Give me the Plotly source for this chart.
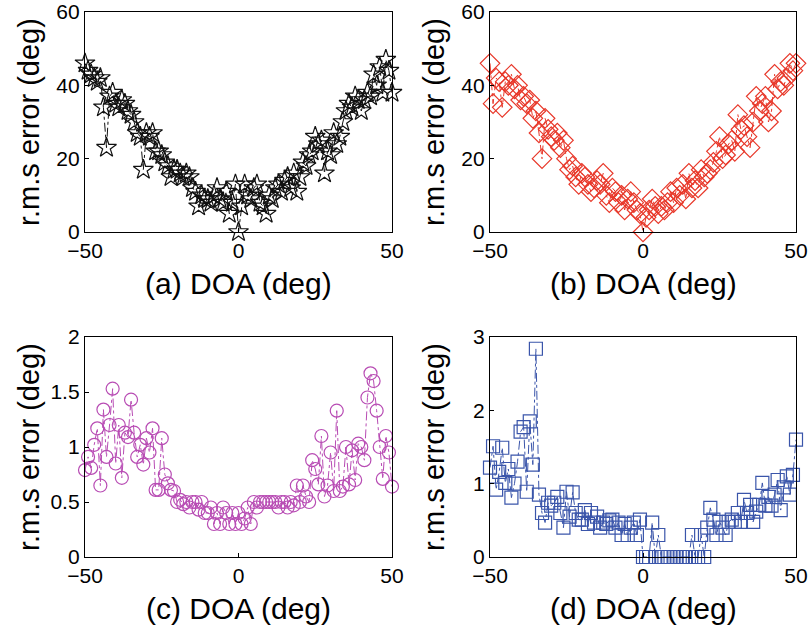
import plotly.graph_objects as go
from plotly.subplots import make_subplots

doa = list(range(-50, 51))

err_a = [46, 44, 43, 42, 41, 42, 34, 23, 37, 38,
         35, 34, 36, 35, 33, 32, 30, 27, 26, 17,
         27, 26, 27, 22, 22, 21, 19, 18, 15, 17,
         17, 16, 15, 16, 15, 12, 11, 7, 10, 9,
         9, 8, 10, 12, 9, 8, 11, 5, 8, 13,
         0,
         7, 13, 10, 9, 12, 13, 8, 7, 5, 10,
         9, 12, 13, 11, 14, 15, 12, 16, 11, 15,
         19, 18, 21, 22, 26, 24, 25, 16, 22, 21,
         27, 24, 26, 30, 33, 35, 34, 37, 36, 33,
         36, 38, 37, 43, 40, 45, 38, 47, 44, 38]

err_b = [46, 35, 42, 41, 34, 41, 40, 43, 39, 40,
         36, 37, 35, 36, 31, 33, 27, 20, 31, 28,
         26, 25, 27, 23, 25, 20, 17, 18, 15, 13,
         16, 15, 13, 11, 12, 14, 13, 16, 10, 8,
         12, 11, 8, 10, 6, 9, 11, 8, 6, 5,
         0,
         4, 6, 9, 7, 5, 7, 6, 8, 11, 8,
         12, 10, 13, 9, 16, 12, 14, 12, 17, 15,
         16, 17, 19, 22, 26, 20, 21, 24, 25, 22,
         32, 28, 29, 26, 23, 30, 37, 33, 35, 37,
         30, 33, 43, 39, 41, 40, 42, 46, 44, 46]

err_c = [0.79, 0.91, 0.81, 1.02, 1.17, 0.65, 1.34, 0.91, 1.20, 1.53,
         0.85, 1.20, 0.72, 1.13, 1.09, 1.43, 1.13, 0.91, 1.02, 0.84,
         1.08, 0.95, 1.17, 0.61, 0.61, 1.08, 0.75, 0.67, 0.61, 0.60,
         0.50, 0.52, 0.48, 0.50, 0.45, 0.50, 0.50, 0.43, 0.50, 0.40,
         0.40, 0.45, 0.30, 0.40, 0.30, 0.45, 0.40, 0.30, 0.40, 0.30,
         0.40,
         0.30, 0.35, 0.45, 0.30, 0.50, 0.45, 0.50, 0.50, 0.50, 0.50,
         0.50, 0.50, 0.45, 0.50, 0.50, 0.45, 0.50, 0.47, 0.65, 0.50,
         0.65, 0.55, 0.50, 0.88, 0.80, 0.66, 1.10, 0.55, 0.65, 0.95,
         0.60, 1.33, 0.60, 0.64, 1.00, 0.66, 0.97, 0.70, 1.03, 1.00,
         0.88, 1.45, 1.67, 1.60, 1.33, 1.00, 0.71, 1.10, 0.95, 0.64]

err_d = [1.22, 1.51, 0.92, 1.16, 1.49, 1.01, 1.20, 0.81, 1.00, 1.30,
         1.71, 1.77, 0.89, 1.85, 1.26, 2.84, 0.85, 0.60, 0.47, 0.74,
         0.70, 0.74, 0.82, 0.60, 0.40, 0.89, 0.55, 0.88, 0.60, 0.51,
         0.51, 0.64, 0.45, 0.60, 0.47, 0.55, 0.40, 0.47, 0.45, 0.50,
         0.51, 0.40, 0.47, 0.30, 0.45, 0.30, 0.40, 0.47, 0.30, 0.51,
         0.00,
         0.00, 0.00, 0.47, 0.00, 0.30, 0.00, 0.00, 0.00, 0.00, 0.00,
         0.00, 0.00, 0.00, 0.00, 0.00, 0.30, 0.00, 0.00, 0.30, 0.00,
         0.40, 0.67, 0.51, 0.30, 0.48, 0.40, 0.30, 0.48, 0.51, 0.48,
         0.60, 0.48, 0.78, 0.60, 0.71, 0.48, 0.62, 0.71, 1.01, 0.70,
         0.82, 0.70, 0.85, 1.05, 0.64, 0.95, 1.10, 0.85, 1.12, 1.60]

x_titles = ["(a) DOA (deg)", "(b) DOA (deg)", "(c) DOA (deg)", "(d) DOA (deg)"]
y_title = "r.m.s error (deg)"

panels = [
    (err_a, "star-open", "#111111", 15, [0, 60], [0, 20, 40, 60]),
    (err_b, "diamond-open", "#e8382a", 15, [0, 60], [0, 20, 40, 60]),
    (err_c, "circle-open", "#b84cb4", 13, [0, 2], [0, 0.5, 1, 1.5, 2]),
    (err_d, "square-open", "#3a55aa", 13, [0, 3], [0, 1, 2, 3]),
]

FONT = "Liberation Sans, Arial, sans-serif"
W, H = 810, 630

fig = make_subplots(rows=2, cols=2)

xpx = [[85, 392], [490, 796]]
ypx = [[12, 232], [337, 557]]
xdoms = [[a / W, b / W] for a, b in xpx]
ydoms = [[1 - b / H, 1 - a / H] for a, b in ypx]

annotations = []
for i, (vals, sym, col, msz, yr, yt) in enumerate(panels):
    r, c = i // 2 + 1, i % 2 + 1
    fig.add_trace(go.Scatter(
        x=doa, y=vals, mode="lines+markers",
        line=dict(color=col, width=1, dash="dashdot"),
        marker=dict(symbol=sym, size=msz, color=col, line=dict(width=1.2, color=col)),
        cliponaxis=False, showlegend=False), row=r, col=c)
    fig.update_xaxes(range=[-50, 50], tickvals=[-50, 0, 50], domain=xdoms[c - 1],
                     showline=True, mirror=True, linecolor="black", linewidth=1.3,
                     ticks="inside", ticklen=4, tickcolor="black",
                     showgrid=False, zeroline=False, automargin=False,
                     tickfont=dict(family=FONT, size=21, color="black"),
                     row=r, col=c)
    fig.update_yaxes(range=yr, tickvals=yt, domain=ydoms[r - 1],
                     showline=True, mirror=True, linecolor="black", linewidth=1.3,
                     ticks="inside", ticklen=4, tickcolor="black",
                     showgrid=False, zeroline=False, automargin=False,
                     tickfont=dict(family=FONT, size=21, color="black"),
                     row=r, col=c)
    x0, x1 = xpx[c - 1]
    y0, y1 = ypx[r - 1]
    annotations.append(dict(
        text=x_titles[i], xref="paper", yref="paper",
        x=(x0 + x1) / 2 / W, y=1 - (y1 + 51) / H,
        xanchor="center", yanchor="middle", showarrow=False,
        font=dict(family=FONT, size=30, color="black")))
    annotations.append(dict(
        text=y_title, xref="paper", yref="paper",
        x=(x0 - 56) / W, y=1 - (y0 + y1) / 2 / H, textangle=-90,
        xanchor="center", yanchor="middle", showarrow=False,
        font=dict(family=FONT, size=29, color="black")))

fig.update_layout(width=W, height=H, margin=dict(l=0, r=0, t=0, b=0),
                  paper_bgcolor="white", plot_bgcolor="white",
                  font=dict(family=FONT, color="black"),
                  annotations=annotations)

fig.write_html("out.html", config={"displayModeBar": False},
               post_script="document.body.style.margin='0';document.body.style.overflow='hidden';")
